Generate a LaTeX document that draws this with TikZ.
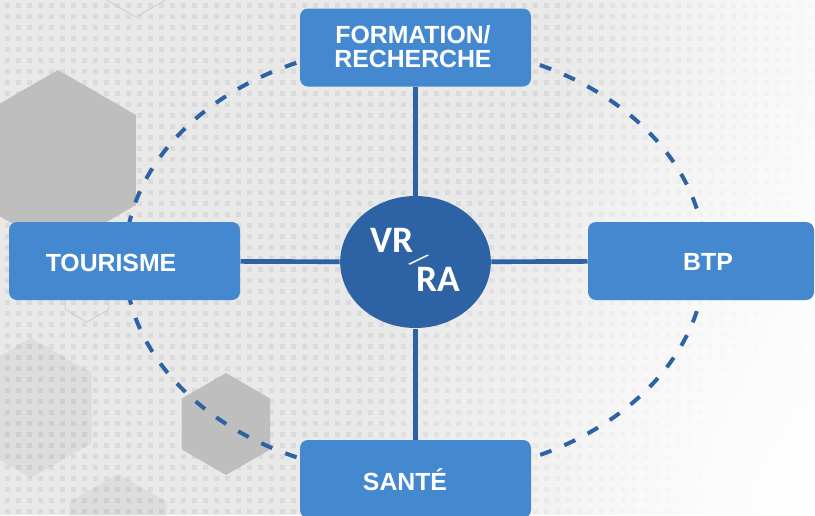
\documentclass[tikz,border=0pt]{standalone}
\usepackage{fontspec}
\setmainfont{Liberation Sans}
\newfontfamily\hubfont{Carlito}
\usetikzlibrary{shapes.geometric,fadings}

\definecolor{boxblue}{RGB}{68,137,207}
\definecolor{darkblue}{RGB}{45,99,165}
\definecolor{bggray}{RGB}{233,233,233}
\definecolor{dotgray}{RGB}{219,219,219}
\definecolor{hexgray}{RGB}{190,190,190}

\tikzfading[name=fadetoright, left color=transparent!100, right color=transparent!0]
\tikzfading[name=cornerfade, inner color=transparent!0, outer color=transparent!100]

\tikzset{every picture/.style={line width=0.75pt}}
\tikzset{
  domainbox/.style={rectangle, rounded corners=6pt, fill=boxblue, inner sep=0pt,
    minimum width=173.25pt, minimum height=58.5pt},
  boxtext/.style={text=white, inner sep=0.75pt, align=center,
    font=\fontsize{18.6}{18}\selectfont\bfseries},
  hubtext/.style={text=white, inner sep=0pt, font=\hubfont\fontsize{28}{28}\selectfont\bfseries},
  spoke/.style={draw=darkblue, line width=3.5pt},
  hexfill/.style={fill=hexgray, draw=none},
  hexfaint/.style={fill=black, fill opacity=0.05, draw=none},
  hexline/.style={draw=black!20, line width=0.6pt}
}

\begin{document}
\begin{tikzpicture}[x=0.75pt,y=0.75pt,yscale=-1,xscale=1]
		\useasboundingbox (0,0) rectangle (815,515);
		\clip (0,0) rectangle (815,515);
		
		%Background
		\fill[bggray] (0,0) rectangle (815,515);
		%Grid of small squares
		\foreach \r in {0,...,46}
		\draw[dotgray, line width=3.75pt, dash pattern=on 3.75pt off 4.5pt] (5,{5.5+11*\r}) -- (815,{5.5+11*\r});
		
		%Shape: faint hexagons
		\fill[hexfaint] (31,408) +(90:70) -- +(150:70) -- +(210:70) -- +(270:70) -- +(330:70) -- +(30:70) -- cycle;
		\fill[hexfaint] (118,530) +(90:56) -- +(150:56) -- +(210:56) -- +(270:56) -- +(330:56) -- +(30:56) -- cycle;
		
		%Fade to white on the right and in the lower right corner
		\fill[white, path fading=fadetoright] (540,-10) rectangle (880,525);
		\fill[white, path fading=cornerfade] (335,35) rectangle (1295,995);
		
		%Shape: outlined hexagons
		\draw[hexline] (136,-30) +(90:47) -- +(150:47) -- +(210:47) -- +(270:47) -- +(330:47) -- +(30:47) -- cycle;
		\draw[hexline] (87,297) +(90:25) -- +(150:25) -- +(210:25) -- +(270:25) -- +(330:25) -- +(30:25) -- cycle;
		%Shape: gray hexagons
		\fill[hexfill] (58,160) +(90:90) -- +(150:90) -- +(210:90) -- +(270:90) -- +(330:90) -- +(30:90) -- cycle;
		\fill[hexfill] (226,424) +(90:51) -- +(150:51) -- +(210:51) -- +(270:51) -- +(330:51) -- +(30:51) -- cycle;
		
		%Dashed ring
		\draw[darkblue, line width=3pt, dash pattern=on 9pt off 10.5pt] (415,260) ellipse [x radius=290, y radius=216];
		
		%Domain boxes
		\node[domainbox] (form) at (415.5,47.5) {};
		\node[domainbox] (tour) at (124.5,261) {};
		\node[domainbox, minimum width=169.5pt] (btp) at (701,261) {};
		\node[domainbox] (sante) at (415.5,479) {};
		%Center
		\node[ellipse, fill=darkblue, inner sep=0pt, minimum width=113pt, minimum height=99pt] (hub) at (415.5,262) {};
		
		%Spokes
		\draw[spoke] (form) -- (hub);
		\draw[spoke] (hub) -- (sante);
		\draw[spoke] (tour) -- (hub);
		\draw[spoke] (hub) -- (btp);
		
		% Text Node
		\node[boxtext] (formtext) at (413,47) {FORMATION/\\RECHERCHE};
		% Text Node
		\node[boxtext] (tourtext) at (111,263) {TOURISME};
		% Text Node
		\node[boxtext] (btptext) at (708,262) {BTP};
		% Text Node
		\node[boxtext] (santetext) at (405,480) {SANTÉ};
		% Text Node
		\node[hubtext] (hubtext) at (415.5,260) {\raisebox{14.6pt}{VR}\kern-4pt\raisebox{2.5pt}{\rotatebox[origin=c]{-40}{\fontsize{20}{20}\mdseries /}}\kern-9pt\raisebox{-14.6pt}{RA}};
		
	\end{tikzpicture}
\end{document}
